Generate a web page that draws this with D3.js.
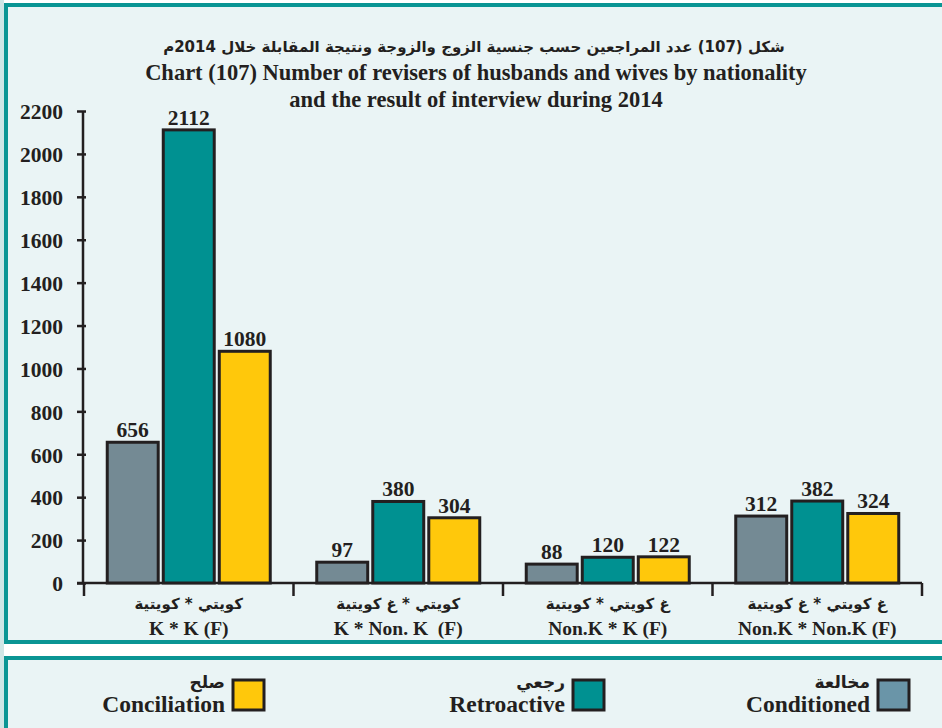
<!DOCTYPE html>
<html>
<head>
<meta charset="utf-8">
<script src="https://cdn.jsdelivr.net/npm/d3@7"></script>
<style>
  html, body { margin: 0; padding: 0; background: #ffffff; }
  svg { display: block; }
  text { font-family: "Liberation Serif", "DejaVu Serif", serif; font-weight: bold; fill: #231f20; }
  .ar { font-family: "DejaVu Sans", "Noto Sans", sans-serif; }
</style>
</head>
<body>
<svg id="chart" width="942" height="728"></svg>
<script>
// ---------- DATA ----------
const categoriesEn = ["K * K (F)", "K * Non. K  (F)", "Non.K * K (F)", "Non.K * Non.K (F)"];
const categoriesAr = ["كويتي * كويتية", "كويتي * غ كويتية", "غ كويتي * كويتية", "غ كويتي * غ كويتية"];
const seriesNames = ["Conditioned", "Retroactive", "Conciliation"];
const seriesNamesAr = ["مخالعة", "رجعي", "صلح"];
const conditioned = [656, 97, 88, 312];
const retroactive = [2112, 380, 120, 382];
const conciliation = [1080, 304, 122, 324];
const yTicks = [0, 200, 400, 600, 800, 1000, 1200, 1400, 1600, 1800, 2000, 2200];
const titleAr = "شكل (107) عدد المراجعين حسب جنسية الزوج والزوجة ونتيجة المقابلة خلال 2014م";
const titleEn1 = "Chart (107) Number of revisers of husbands and wives by nationality";
const titleEn2 = "and the result of interview during 2014";

// ---------- STYLE ----------
const colors = { Conditioned: "#748a94", Retroactive: "#009191", Conciliation: "#ffc80b" };
const legendColors = { Conditioned: "#6a95a8", Retroactive: "#009191", Conciliation: "#ffc80b" };
const teal = "#0a9594";
const bg = "#eaf4f5";
const ink = "#231f20";

const svg = d3.select("#chart");

// panels
svg.append("rect").attr("x", 0).attr("y", 0).attr("width", 4).attr("height", 728).attr("fill", "#cfe6e6");
svg.append("rect").attr("x", 6).attr("y", 5).attr("width", 950).attr("height", 637)
  .attr("fill", bg).attr("stroke", teal).attr("stroke-width", 4);
svg.append("rect").attr("x", 6).attr("y", 658).attr("width", 950).attr("height", 100)
  .attr("fill", bg).attr("stroke", teal).attr("stroke-width", 4);

// titles
svg.append("text").attr("class", "ar").attr("x", 474).attr("y", 52)
  .attr("text-anchor", "middle").attr("direction", "rtl").attr("font-size", 15).text(titleAr);
svg.append("text").attr("x", 476).attr("y", 80)
  .attr("text-anchor", "middle").attr("font-size", 22.5).text(titleEn1);
svg.append("text").attr("x", 476).attr("y", 107)
  .attr("text-anchor", "middle").attr("font-size", 22.5).text(titleEn2);

// scales
const x = d3.scaleBand().domain(categoriesEn).range([84, 922]).paddingInner(0).paddingOuter(0);
const xs = d3.scaleBand().domain(seriesNames).range([0, x.bandwidth()]).paddingInner(0.09).paddingOuter(0.415);
const y = d3.scaleLinear().domain([0, 2200]).range([583, 111]);

// y axis
const yAxis = d3.axisLeft(y).tickValues(yTicks).tickSize(6).tickPadding(14).tickFormat(d3.format("d"));
const yg = svg.append("g").attr("transform", "translate(83,0)").call(yAxis);
yg.select(".domain").attr("stroke", ink).attr("stroke-width", 2.5).attr("d", `M0,${y(2200)}V${y(0)}`);
yg.selectAll(".tick line").attr("stroke", ink).attr("stroke-width", 2.5).attr("x1", -6).attr("x2", 3);
yg.selectAll(".tick text").attr("font-size", 21.5).attr("font-family", "Liberation Serif, serif")
  .attr("font-weight", "bold").attr("fill", ink).attr("dy", "0.36em");

// x axis (baseline + separators)
const xAxis = d3.axisBottom(x).tickSize(0).tickFormat("");
const xg = svg.append("g").attr("transform", `translate(0,${y(0)})`).call(xAxis);
xg.select(".domain").attr("stroke", ink).attr("stroke-width", 2.5).attr("d", `M77,0H922`);
const seps = categoriesEn.map(c => x(c)).concat([x(categoriesEn[categoriesEn.length - 1]) + x.bandwidth()]);
xg.selectAll("line.sep").data(seps).enter().append("line").attr("class", "sep")
  .attr("x1", d => d).attr("x2", d => d).attr("y1", 0).attr("y2", 13)
  .attr("stroke", ink).attr("stroke-width", 2.5);

// category labels
categoriesEn.forEach((c, i) => {
  const cx = x(c) + x.bandwidth() / 2;
  svg.append("text").attr("class", "ar").attr("x", cx).attr("y", 609)
    .attr("text-anchor", "middle").attr("direction", "rtl").attr("font-size", 15).text(categoriesAr[i]);
  svg.append("text").attr("x", cx).attr("y", 635).attr("text-anchor", "middle")
    .attr("font-size", 19.5).attr("xml:space", "preserve").style("white-space", "pre").text(c);
});

// bars
const seriesData = { Conditioned: conditioned, Retroactive: retroactive, Conciliation: conciliation };
seriesNames.forEach(s => {
  const g = svg.append("g");
  const rows = categoriesEn.map((c, i) => ({ c, v: seriesData[s][i] }));
  g.selectAll("rect").data(rows).enter().append("rect")
    .attr("x", d => x(d.c) + xs(s))
    .attr("y", d => y(d.v))
    .attr("width", xs.bandwidth())
    .attr("height", d => y(0) - y(d.v))
    .attr("fill", colors[s]).attr("stroke", ink).attr("stroke-width", 3);
  g.selectAll("text").data(rows).enter().append("text")
    .attr("x", d => x(d.c) + xs(s) + xs.bandwidth() / 2)
    .attr("y", d => y(d.v) - 5)
    .attr("text-anchor", "middle").attr("font-size", 21.5).text(d => d.v);
});

// legend
const legendSwatchX = { Conciliation: 233, Retroactive: 573, Conditioned: 878 };
seriesNames.forEach((s, i) => {
  const sx = legendSwatchX[s];
  svg.append("rect").attr("x", sx).attr("y", 680).attr("width", 31).attr("height", 30)
    .attr("fill", legendColors[s]).attr("stroke", ink).attr("stroke-width", 3);
  svg.append("text").attr("x", sx - 8).attr("y", 712).attr("text-anchor", "end")
    .attr("font-size", 23.5).text(s);
  svg.append("text").attr("class", "ar").attr("x", sx - 8).attr("y", 688).attr("text-anchor", "start")
    .attr("direction", "rtl").attr("font-size", 17).text(seriesNamesAr[i]);
});
</script>
</body>
</html>
